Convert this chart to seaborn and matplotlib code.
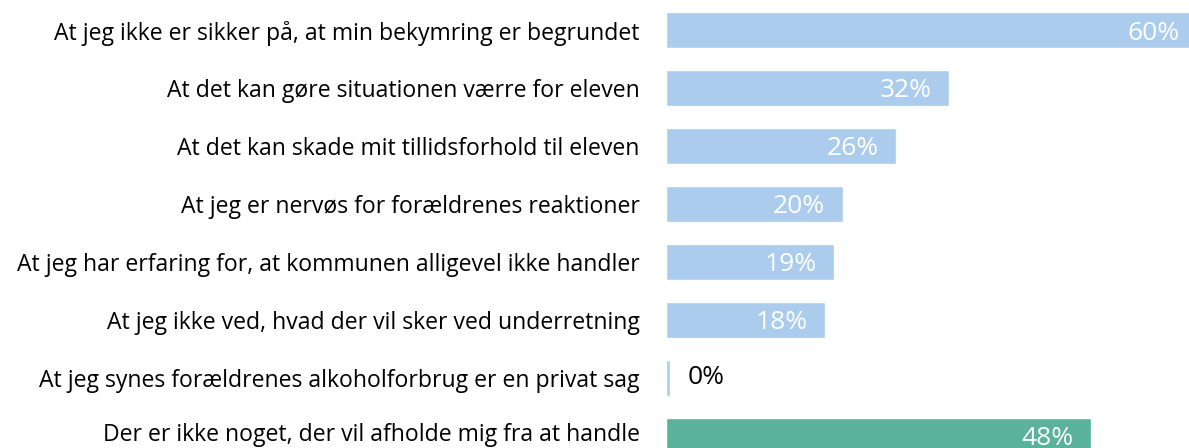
import seaborn as sns
import matplotlib.pyplot as plt
import matplotlib.transforms as mtransforms
import pandas as pd

# Data
labels = [
    "At jeg ikke er sikker på, at min bekymring er begrundet",
    "At det kan gøre situationen værre for eleven",
    "At det kan skade mit tillidsforhold til eleven",
    "At jeg er nervøs for forældrenes reaktioner",
    "At jeg har erfaring for, at kommunen alligevel ikke handler",
    "At jeg ikke ved, hvad der vil sker ved underretning",
    "At jeg synes forældrenes alkoholforbrug er en privat sag",
    "Der er ikke noget, der vil afholde mig fra at handle",
]
values = [60, 32, 26, 20, 19, 18, 0.4, 48]
value_text = ["60%", "32%", "26%", "20%", "19%", "18%", "0%", "48%"]

blue = "#ABCCED"
green = "#5BB29C"
colors = [blue] * 7 + [green]

df = pd.DataFrame({"label": labels, "value": values})

sns.set_style("white")
plt.rcParams["font.family"] = ["Open Sans", "DejaVu Sans"]

fig = plt.figure(figsize=(11.89, 4.48), dpi=100)
ax = fig.add_axes([666 / 1189, 0, 1 - 666 / 1189, 1])

sns.barplot(data=df, x="value", y="label", hue="label", palette=colors,
            legend=False, width=0.63, ax=ax, saturation=1)

ax.set_xlim(0, 59.1)
ax.set_ylim(7.21, -0.52)
ax.set_xlabel("")
ax.set_ylabel("")
ax.set_xticks([])
ax.tick_params(axis="y", length=0, pad=19, labelsize=16.6, labelcolor="black")
sns.despine(ax=ax, left=True, bottom=True, right=True, top=True)

# nudge the bottom label up a little so it is not clipped
last = ax.get_yticklabels()[-1]
last.set_transform(last.get_transform() +
                   mtransforms.ScaledTranslation(0, 3 / 72, fig.dpi_scale_trans))

for i, (v, t) in enumerate(zip(values, value_text)):
    if v < 5:
        ax.text(v + 2, i, t, va="center", ha="left", fontsize=19, color="black")
    else:
        ax.text(v - 2.0, i + 0.05, t, va="center", ha="right",
                fontsize=19, color="white")

fig.savefig("out.png", dpi=100)
